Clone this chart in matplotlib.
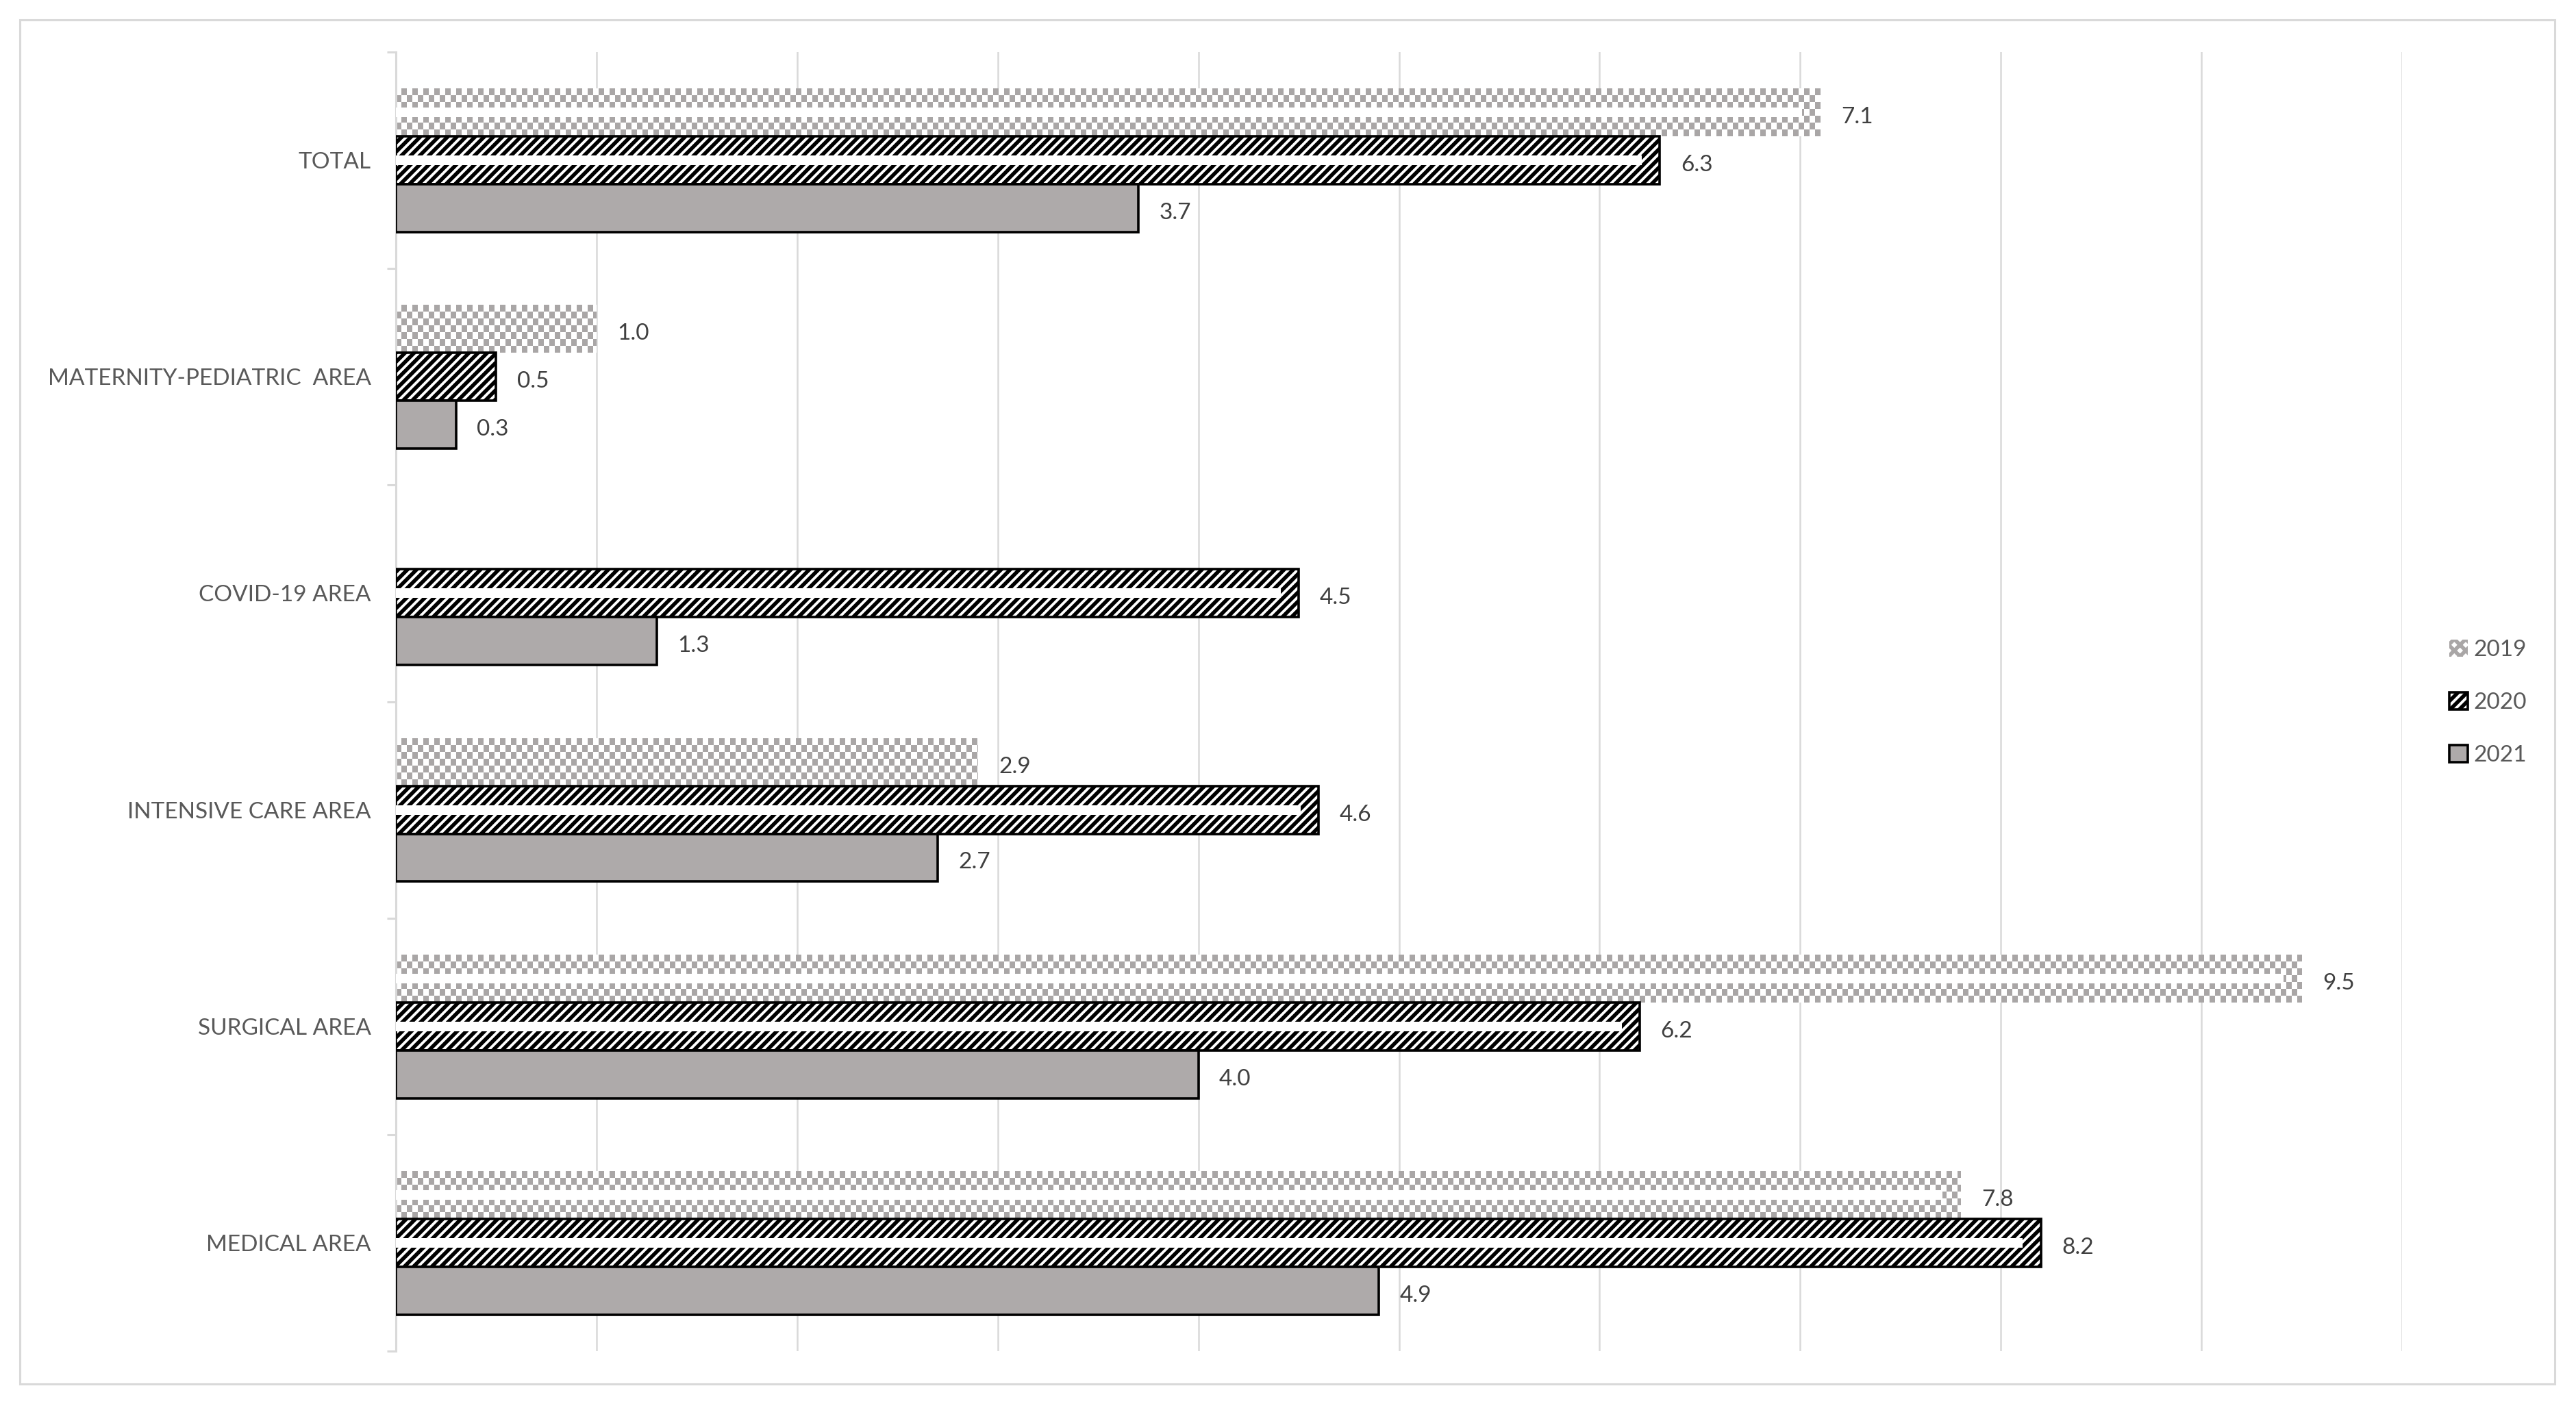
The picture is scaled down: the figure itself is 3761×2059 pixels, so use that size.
import matplotlib
matplotlib.use("Agg")
import matplotlib.pyplot as plt
from matplotlib.colors import ListedColormap
from matplotlib.patches import Patch, Rectangle
import numpy as np

# Datos (de abajo hacia arriba)
areas = ["MEDICAL AREA", "SURGICAL AREA", "INTENSIVE CARE AREA", "COVID-19 AREA",
         "MATERNITY-PEDIATRIC  AREA", "TOTAL"]
v2019 = [7.8, 9.5, 2.9, np.nan, 1.0, 7.1]
v2020 = [8.2, 6.2, 4.6, 4.5, 0.5, 6.3]
v2021 = [4.9, 4.0, 2.7, 1.3, 0.3, 3.7]
years = ["2019", "2020", "2021"]

plt.rcParams["font.family"] = ["Lato", "DejaVu Sans"]
plt.rcParams["hatch.linewidth"] = 2.0

W, H, DPI = 3761, 2059, 200
fig = plt.figure(figsize=(W / DPI, H / DPI), dpi=DPI)
ax = fig.add_axes([578 / W, 1 - 1973 / H, (3507 - 578) / W, (1973 - 76) / H])

# marco exterior gris
fig.patches.append(Rectangle((29 / W, 1 - 2021 / H), (3730 - 29) / W, (2021 - 29) / H,
                             transform=fig.transFigure, fill=False,
                             edgecolor="#d9d9d9", linewidth=1.1))

y = np.arange(len(areas))
h = 0.221
grey_txt = "#595959"
val_txt = "#404040"

ax.set_xlim(0, 10)
ax.set_ylim(-0.5, 5.5)

# 2019: tablero gris (imagen recortada a cada barra)
cx = 10 / 2929 * 8
cy = 6 / 1897 * 10
checker_cmap = ListedColormap(["white", "#a9a6a6"])
bars19 = ax.barh(y + h, np.nan_to_num(v2019), height=h, facecolor="none",
                 edgecolor="none", zorder=2)
for b, v in zip(bars19, v2019):
    if np.isnan(v):
        continue
    nc = int(np.ceil(v / cx)) + 1
    nr = int(np.ceil(h / cy)) + 1
    ii, jj = np.indices((nr, nc))
    img = (ii + jj) % 2
    y0 = b.get_y()
    im = ax.imshow(img, cmap=checker_cmap, interpolation="nearest", aspect="auto",
                   extent=[0, nc * cx, y0, y0 + nr * cy], origin="lower", zorder=2)
    im.set_clip_path(b)

# 2020: rayado negro
bars20 = ax.barh(y, v2020, height=h, facecolor="white", edgecolor="black",
                 hatch="/////", linewidth=1.3, zorder=3)

# 2021: gris sólido
bars21 = ax.barh(y - h, v2021, height=h, facecolor="#aeaaaa", edgecolor="black",
                 linewidth=1.3, zorder=3)

# franja blanca que aparece en las barras largas con trama
for yy, vals in [(y + h, v2019), (y, v2020)]:
    for yc, v in zip(yy, vals):
        if not np.isnan(v) and v >= 4:
            ax.barh(yc, v - 0.09, height=h * 0.2, color="white", linewidth=0, zorder=4)

ax.set_xlim(0, 10)
ax.set_ylim(-0.5, 5.5)

# etiquetas de valor
for yy, vals in [(y + h, v2019), (y, v2020), (y - h, v2021)]:
    for yc, v in zip(yy, vals):
        if np.isnan(v):
            continue
        ax.annotate(f"{v:.1f}", xy=(v, yc), xytext=(11, -2.5), textcoords="offset points",
                    ha="left", va="center", fontsize=12, color=val_txt)

# ejes y rejilla
ax.set_xticks(np.arange(0, 11, 1))
ax.tick_params(axis="x", length=0, labelbottom=False)
ax.grid(axis="x", color="#d9d9d9", linewidth=0.9)
ax.set_axisbelow(True)
for s in ["top", "right", "bottom"]:
    ax.spines[s].set_visible(False)
ax.spines["left"].set_color("#d9d9d9")
ax.spines["left"].set_linewidth(1.1)

ax.set_yticks(y)
ax.set_yticklabels(areas, fontsize=12, color=grey_txt)
ax.set_yticks(np.arange(-0.5, 6, 1), minor=True)
ax.tick_params(axis="y", which="major", length=0, pad=13)
ax.tick_params(axis="y", which="minor", length=4.7, width=1.1, color="#d9d9d9")

# leyenda
handles = [
    Patch(facecolor="white", edgecolor="#a9a6a6", hatch="xxxx", linewidth=0),
    Patch(facecolor="white", edgecolor="black", hatch="/////", linewidth=1.3),
    Patch(facecolor="#aeaaaa", edgecolor="black", linewidth=1.3),
]
leg = fig.legend(handles, years, loc="center left", bbox_to_anchor=(3563 / W, 1 - 1026 / H),
                 frameon=False, fontsize=12, handlelength=0.8, handleheight=0.8,
                 handletextpad=0.25, labelspacing=1.4, borderaxespad=0)
for t in leg.get_texts():
    t.set_color(grey_txt)

fig.savefig("out.png", dpi=DPI)
